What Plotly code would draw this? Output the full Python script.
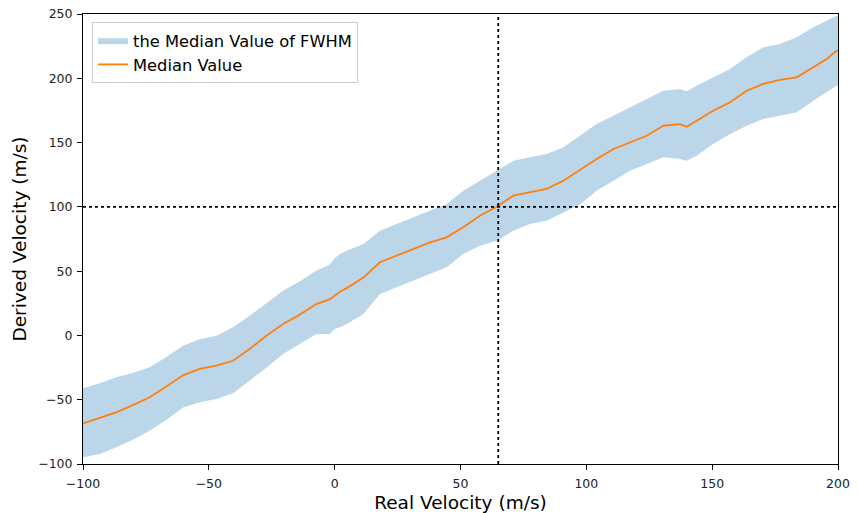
import plotly.graph_objects as go

real_velocity = [-100, -93, -86.8, -80, -73.5, -67, -60.3, -53.6, -47, -40.4, -33.8, -27, -20.5, -14,
                 -7.3, -2, 0, 2.1, 5, 11.4, 18, 24.6, 31.3, 37.9, 44.5, 51.1, 57.7, 64.4, 71, 77.6,
                 84.2, 90.9, 97.5, 104.1, 110.8, 117.4, 124, 130.6, 137.2, 139.9, 143.8, 150.4,
                 157.1, 163.7, 170.3, 176.9, 183.6, 190.2, 195.5, 199.5, 200]
median_value = [-68.5, -64, -59.8, -54, -48.1, -40, -31, -26, -23.5, -19.7, -10.6, 0, 8.9, 16,
                24.4, 28, 31, 34, 37, 45, 56.9, 62, 67.2, 72.4, 76.3, 84.1, 93.1, 100.1, 108.7, 111.3,
                113.9, 120.4, 129, 137.2, 145, 150.2, 155.3, 163.1, 164.4, 162.3, 167, 174.8,
                181.3, 190.3, 195.6, 198.7, 200.7, 208.5, 215, 221.5, 221]
fwhm_upper = [-41, -37, -32.6, -29, -24.8, -17, -8, -3, -0.2, 6.3, 15.3, 25, 34.8, 42,
              50.4, 55, 60, 63.3, 66, 71.1, 81.5, 86.7, 91.9, 97, 102.2, 112.6, 120.4, 128.1, 135.9, 138.5,
              141.1, 146.3, 155, 164.4, 170.9, 177.4, 183.9, 190.3, 191.7, 189.9, 194.2, 200.7,
              207.2, 216.3, 224.1, 226.7, 231.9, 239.7, 244.8, 248.7, 249]
fwhm_lower = [-95, -92, -87, -81, -74, -66, -56, -52, -49.4, -45, -35.2, -25, -14.4, -7,
              1.1, 1, 5, 6.3, 9, 16.7, 32.2, 37.4, 42.6, 47.8, 53, 63.3, 69.8, 73.7, 81.5, 86.7,
              89.2, 95.7, 102, 112.6, 120.4, 128.1, 133.3, 138.5, 137.2, 135.9, 139.8, 148.9,
              156.7, 163.1, 168.3, 170.9, 173.5, 182.6, 189.1, 194.2, 195]

ref_x = 65
ref_y = 100
x_ticks = [-100, -50, 0, 50, 100, 150, 200]
y_ticks = [-100, -50, 0, 50, 100, 150, 200, 250]

fig = go.Figure()
fig.add_trace(go.Scatter(x=real_velocity, y=fwhm_lower, mode="lines", line=dict(width=0),
                         showlegend=False, hoverinfo="skip"))
fig.add_trace(go.Scatter(x=real_velocity, y=fwhm_upper, mode="lines", line=dict(width=0),
                         fill="tonexty", fillcolor="rgba(31,119,180,0.3)",
                         name="the Median Value of FWHM"))
fig.add_trace(go.Scatter(x=real_velocity, y=median_value, mode="lines",
                         line=dict(color="#ff7f0e", width=1.8), name="Median Value"))

fig.add_shape(type="line", x0=ref_x, x1=ref_x, y0=0, y1=1, xref="x", yref="paper",
              line=dict(color="black", width=1.8, dash="dot"))
fig.add_shape(type="line", x0=0, x1=1, y0=ref_y, y1=ref_y, xref="paper", yref="y",
              line=dict(color="black", width=1.8, dash="dot"))

axis_common = dict(showgrid=False, zeroline=False, showline=True, linecolor="black", linewidth=1,
                   mirror=True, ticks="outside", ticklen=5, tickcolor="black", automargin=False,
                   tickfont=dict(size=12.5, color="#222222"))
fig.update_xaxes(range=[-100, 200], tickvals=x_ticks, ticklabelstandoff=3,
                 title=dict(text="Real Velocity (m/s)", font=dict(size=18.5, color="black"), standoff=9),
                 **axis_common)
fig.update_yaxes(range=[-100, 250], tickvals=y_ticks, ticklabelstandoff=2,
                 title=dict(text="Derived Velocity (m/s)", font=dict(size=18.5, color="black"), standoff=6),
                 **axis_common)

fig.update_layout(
    width=858, height=513,
    margin=dict(l=83, r=20, t=14, b=49),
    plot_bgcolor="white", paper_bgcolor="white",
    font=dict(family="DejaVu Sans", color="black"),
    legend=dict(x=0.012, y=0.982, xanchor="left", yanchor="top", traceorder="normal",
                bgcolor="rgba(255,255,255,0.9)", bordercolor="#cccccc", borderwidth=1,
                font=dict(size=16.3), tracegroupgap=0),
)

fig.write_html("out.html")
